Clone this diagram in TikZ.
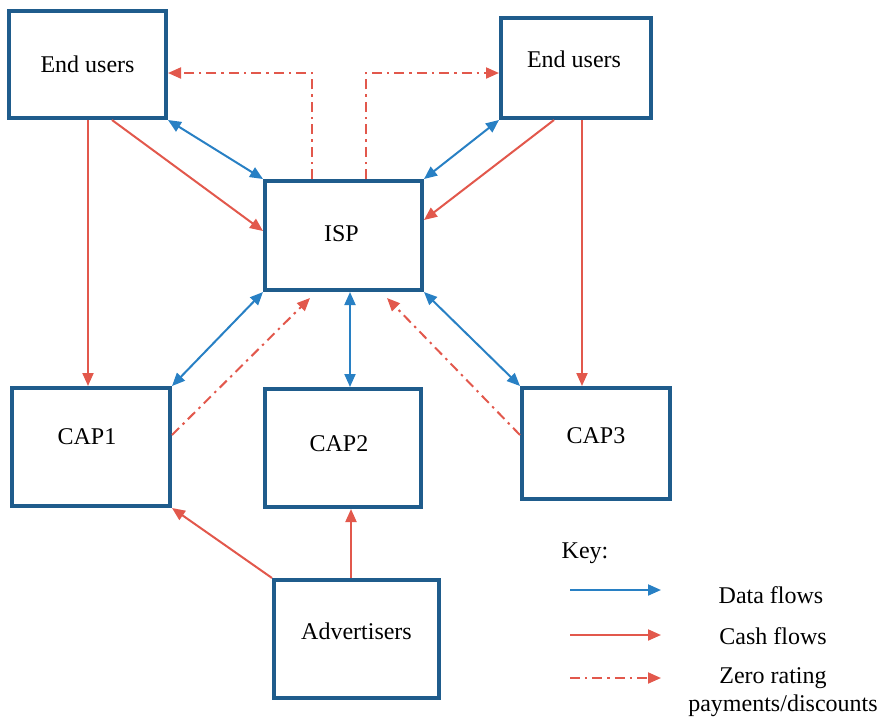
\documentclass[tikz,border=0pt]{standalone}
\usepackage{fontspec}
\setmainfont{Liberation Serif}
\usetikzlibrary{arrows.meta}
\definecolor{boxblue}{RGB}{31,92,140}
\definecolor{datablue}{RGB}{40,128,196}
\definecolor{cashred}{RGB}{226,88,76}
\begin{document}
\begin{tikzpicture}[x=0.5pt,y=-0.5pt,
  font=\fontsize{12}{14}\selectfont,
  box/.style={draw=boxblue, line width=2pt, rectangle, inner sep=0pt},
  lbl/.style={inner sep=0pt, text=black},
  data/.style={draw=datablue, line width=1pt, {Triangle[length=6.5pt,width=5.5pt]}-{Triangle[length=6.5pt,width=5.5pt]}},
  dataone/.style={draw=datablue, line width=1pt, -{Triangle[length=6.5pt,width=5.5pt]}},
  cash/.style={draw=cashred, line width=1pt, -{Triangle[length=6.5pt,width=5.5pt]}},
  zero/.style={draw=cashred, line width=1pt, dash pattern=on 5pt off 2.5pt on 1.2pt off 2.5pt, -{Triangle[length=6.5pt,width=5.5pt]}}
]
\useasboundingbox (0,0) rectangle (880,719);

% boxes
\node[box, minimum width=78.5pt, minimum height=53.5pt, label={[lbl]center:End users}] (eu1) at (87.5,64.5) {};
\node[box, minimum width=75pt, minimum height=50pt, label={[lbl,xshift=-1pt,yshift=4.5pt]center:End users}] (eu2) at (576,68) {};
\node[box, minimum width=78.5pt, minimum height=54.5pt, label={[lbl,xshift=-1pt,yshift=1pt]center:ISP}] (isp) at (343.5,235.5) {};
\node[box, minimum width=79pt, minimum height=59pt, label={[lbl,xshift=-2pt,yshift=5pt]center:CAP1}] (cap1) at (91,447) {};
\node[box, minimum width=78pt, minimum height=59pt, label={[lbl,xshift=-2pt,yshift=2pt]center:CAP2}] (cap2) at (343,448) {};
\node[box, minimum width=74pt, minimum height=55.5pt, label={[lbl,yshift=4pt]center:CAP3}] (cap3) at (596,443.5) {};
\node[box, minimum width=82.5pt, minimum height=59pt, label={[lbl,yshift=4pt]center:Advertisers}] (adv) at (356.5,639) {};

% free ends
\coordinate (z1) at (310,298);
\coordinate (z2) at (387,298);

% connectors
\draw[data] (eu1.south east) -- (isp.north west);
\draw[cash] (eu1.south -| 112,0) -- (isp.west |- 0,231);
\draw[cash] (eu1.south -| 88,0) -- (cap1.north -| 88,0);
\draw[zero] (isp.north -| 312,0) |- (eu1.east |- 0,73);
\draw[zero] (isp.north -| 366,0) |- (eu2.west |- 0,73);
\draw[data] (eu2.south west) -- (isp.north east);
\draw[cash] (eu2.south -| 554,0) -- (isp.east |- 0,220);
\draw[cash] (eu2.south -| 582,0) -- (cap3.north -| 582,0);
\draw[data] (isp.south west) -- (cap1.north east);
\draw[zero] (cap1.east |- 0,435) -- (z1);
\draw[data] (isp.south -| 350,0) -- (cap2.north -| 350,0);
\draw[zero] (cap3.west |- 0,435) -- (z2);
\draw[data] (isp.south east) -- (cap3.north west);
\draw[cash] (adv.north west) -- (cap1.south east);
\draw[cash] (adv.north -| 351,0) -- (cap2.south -| 351,0);

% key
\node[lbl] (key) at (585,553) {Key:};
\coordinate (k1a) at (570,590);
\coordinate (k1b) at (661,590);
\coordinate (k2a) at (570,635);
\coordinate (k2b) at (661,635);
\coordinate (k3a) at (570,678);
\coordinate (k3b) at (661,678);
\draw[dataone] (k1a) -- (k1b);
\draw[cash] (k2a) -- (k2b);
\draw[zero] (k3a) -- (k3b);
\node[lbl] (kd) at (771,595) {Data flows};
\node[lbl] (kc) at (773,636) {Cash flows};
\node[lbl] (kz) at (773,678) {Zero rating};
\node[lbl] (kp) at (783,706) {payments/discounts};
\end{tikzpicture}
\end{document}
